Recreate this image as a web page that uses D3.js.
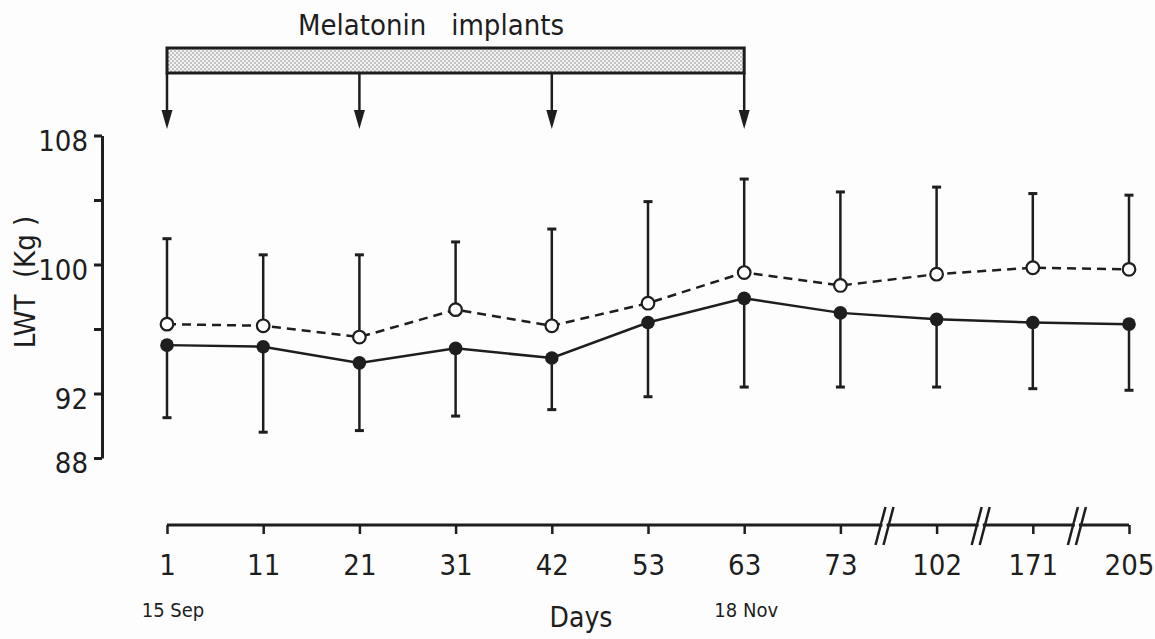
<!DOCTYPE html>
<html><head><meta charset="utf-8">
<script src="https://cdn.jsdelivr.net/npm/d3@7"></script>
<style>
html,body{margin:0;padding:0;background:#fdfdfd;}
text{font-family:"DejaVu Sans Condensed","Liberation Sans Narrow","DejaVu Sans",sans-serif;fill:#1e1e1e;}
</style></head>
<body><svg id="c" width="1155" height="639"></svg>
<script>
// Data
const days = ["1","11","21","31","42","53","63","73","102","171","205"];
const openMean = [96.3, 96.2, 95.5, 97.2, 96.2, 97.6, 99.5, 98.7, 99.4, 99.8, 99.7];
const openSD   = [5.3, 4.4, 5.1, 4.2, 6.0, 6.3, 5.8, 5.8, 5.4, 4.6, 4.6];
const filledMean = [95.0, 94.9, 93.9, 94.8, 94.2, 96.4, 97.9, 97.0, 96.6, 96.4, 96.3];
const filledSD   = [4.5, 5.3, 4.2, 4.2, 3.2, 4.6, 5.5, 4.6, 4.2, 4.1, 4.1];
const yTicks = [88, 92, 96, 100, 104, 108];
const yTickLabels = ["88", "92", "", "100", "", "108"];
const implantDays = ["1", "21", "42", "63"];
const breakAfter = [["73","102"], ["102","171"], ["171","205"]];
const dateNotes = [{day:"1", text:"15 Sep"}, {day:"63", text:"18 Nov"}];

const ink = "#1e1e1e";
const svg = d3.select("#c");
const x = d3.scalePoint().domain(days).range([167, 1129]);
const y = d3.scaleLinear().domain([88, 108]).range([458, 135.5]);

// defs: dotted pattern
const defs = svg.append("defs");
const pat = defs.append("pattern").attr("id","dots").attr("patternUnits","userSpaceOnUse")
  .attr("width",4).attr("height",4);
pat.append("rect").attr("width",4).attr("height",4).attr("fill","#f4f4f4");
pat.append("circle").attr("cx",1).attr("cy",1).attr("r",0.75).attr("fill","#777");
pat.append("circle").attr("cx",3).attr("cy",3).attr("r",0.75).attr("fill","#777");

// Y axis
const yAxis = d3.axisLeft(y).tickValues(yTicks).tickSize(8).tickSizeOuter(0).tickPadding(6)
  .tickFormat((d,i) => yTickLabels[i]);
const gy = svg.append("g").attr("transform","translate(102,0)").call(yAxis);
gy.select(".domain").attr("stroke", ink).attr("stroke-width", 3);
gy.selectAll(".tick line").attr("stroke", ink).attr("stroke-width", 3);
gy.selectAll(".tick text").attr("font-size", 29).attr("fill", ink).attr("dy","0.5em");

svg.append("text").attr("transform","translate(35,282) rotate(-90)")
  .attr("text-anchor","middle").attr("font-size",29).attr("xml:space","preserve").text("LWT  (Kg )");

// X axis
const axisY = 525;
const xAxis = d3.axisBottom(x).tickSize(9).tickSizeOuter(0).tickPadding(20);
const gx = svg.append("g").attr("transform",`translate(0,${axisY})`).call(xAxis);
gx.select(".domain").attr("stroke", ink).attr("stroke-width", 3).attr("d", `M${x("1")},0H${x("205")}`);
gx.selectAll(".tick line").attr("stroke", ink).attr("stroke-width", 2.5);
gx.selectAll(".tick text").attr("font-size", 29).attr("fill", ink);

// axis break marks
breakAfter.forEach(([a,b]) => {
  const bx = (x(a) + x(b)) / 2 - 4;
  [-4, 4].forEach(off => {
    svg.append("line").attr("x1", bx + off - 5).attr("y1", axisY + 20)
      .attr("x2", bx + off + 5).attr("y2", axisY - 18)
      .attr("stroke", ink).attr("stroke-width", 2.5);
  });
  svg.append("rect").attr("x", bx - 2).attr("y", axisY - 3).attr("width", 4).attr("height", 6).attr("fill", "#fdfdfd");
});

dateNotes.forEach(n => {
  svg.append("text").attr("x", x(n.day) + (n.day === "1" ? 6 : 2)).attr("y", 617)
    .attr("text-anchor","middle").attr("font-size",20).text(n.text);
});
svg.append("text").attr("x", 581).attr("y", 627).attr("text-anchor","middle")
  .attr("font-size",28).text("Days");

// Melatonin implants bar
const barTop = 48, barBot = 73;
svg.append("rect").attr("x", x(implantDays[0])).attr("y", barTop)
  .attr("width", x(implantDays[implantDays.length-1]) - x(implantDays[0]))
  .attr("height", barBot - barTop).attr("fill","url(#dots)").attr("stroke", ink).attr("stroke-width", 3);
svg.append("text").attr("x", 431).attr("y", 35).attr("text-anchor","middle")
  .attr("font-size",29).attr("xml:space","preserve").text("Melatonin   implants");
implantDays.forEach(d => {
  const ax = x(d);
  svg.append("line").attr("x1", ax).attr("x2", ax).attr("y1", barBot).attr("y2", 114)
    .attr("stroke", ink).attr("stroke-width", 2.5);
  svg.append("path").attr("d", `M${ax-5.5},110 L${ax+5.5},110 L${ax},129 Z`).attr("fill", ink);
});

// Error bars
const capW = 9;
days.forEach((d,i) => {
  const px = x(d);
  svg.append("line").attr("x1",px).attr("x2",px).attr("y1",y(openMean[i])).attr("y2",y(openMean[i]+openSD[i]))
    .attr("stroke",ink).attr("stroke-width",2.5);
  svg.append("line").attr("x1",px-capW/2).attr("x2",px+capW/2).attr("y1",y(openMean[i]+openSD[i])).attr("y2",y(openMean[i]+openSD[i]))
    .attr("stroke",ink).attr("stroke-width",3);
  svg.append("line").attr("x1",px).attr("x2",px).attr("y1",y(filledMean[i])).attr("y2",y(filledMean[i]-filledSD[i]))
    .attr("stroke",ink).attr("stroke-width",2.5);
  svg.append("line").attr("x1",px-capW/2).attr("x2",px+capW/2).attr("y1",y(filledMean[i]-filledSD[i])).attr("y2",y(filledMean[i]-filledSD[i]))
    .attr("stroke",ink).attr("stroke-width",3);
});

// Lines
const lineGen = arr => d3.line().x((d,i) => x(days[i])).y(d => y(d))(arr);
svg.append("path").attr("d", lineGen(openMean)).attr("fill","none").attr("stroke",ink)
  .attr("stroke-width",2.5).attr("stroke-dasharray","9,6");
svg.append("path").attr("d", lineGen(filledMean)).attr("fill","none").attr("stroke",ink)
  .attr("stroke-width",2.5);

// Points
svg.selectAll("circle.open").data(openMean).enter().append("circle").attr("class","open")
  .attr("cx",(d,i)=>x(days[i])).attr("cy",d=>y(d)).attr("r",6.3)
  .attr("fill","#fff").attr("stroke",ink).attr("stroke-width",2.2);
svg.selectAll("circle.filled").data(filledMean).enter().append("circle").attr("class","filled")
  .attr("cx",(d,i)=>x(days[i])).attr("cy",d=>y(d)).attr("r",6.8)
  .attr("fill",ink);
</script></body></html>
